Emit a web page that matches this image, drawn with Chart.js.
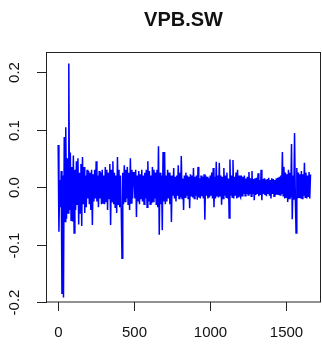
<!DOCTYPE html>
<html>
<head>
<meta charset="utf-8">
<script src="https://cdn.jsdelivr.net/npm/chart.js@4/dist/chart.umd.min.js"></script>
<style>
  body { margin: 0; background: #fff; overflow: hidden; }
  canvas { display: block; }
</style>
</head>
<body>
<canvas id="vpbChart" width="322" height="345"></canvas>
<script>
// daily returns of VPB.SW (one value kept for every 5th day)
var returns = [
  0.073, -0.078, 0.012, -0.035, 0.028, -0.186, 0.02, -0.192, 0.087, -0.06,
  0.104, -0.055, 0.05, -0.045, 0.215, -0.04, 0.06, -0.058, 0.035, -0.06,
  0.055, -0.08, 0.03, -0.04, 0.045, -0.03, 0.05, -0.065, 0.025, -0.045,
  0.04, -0.068, 0.052, -0.03, 0.035, -0.045, 0.02, -0.035, 0.03, -0.02,
  0.028, -0.03, 0.025, -0.04, 0.03, -0.066, 0.022, -0.025, 0.03, -0.02,
  0.045, -0.025, 0.02, -0.035, 0.028, -0.02, 0.025, -0.03, 0.03, -0.028,
  0.02, -0.03, 0.035, -0.025, 0.03, -0.04, 0.025, -0.02, 0.04, -0.066,
  0.03, -0.025, 0.045, -0.03, 0.025, -0.035, 0.02, -0.045, 0.052, -0.03,
  0.03, -0.035, 0.02, -0.04, -0.124, 0.025, -0.03, 0.038, -0.025, 0.03,
  -0.02, 0.035, -0.03, 0.025, -0.04, 0.05, -0.028, 0.03, -0.02, 0.025,
  0.025, -0.02, 0.03, -0.052, 0.02, -0.025, 0.028, -0.03, 0.022, -0.02,
  0.03, -0.025, 0.02, -0.03, 0.025, -0.02, 0.03, -0.035, 0.045, -0.025,
  0.028, -0.03, 0.02, -0.028, 0.035, -0.025, 0.03, -0.02, 0.025, -0.03,
  0.03, -0.035, 0.071, -0.083, 0.025, -0.03, 0.02, -0.075, 0.061, -0.025,
  0.061, -0.03, 0.02, -0.025, 0.03, -0.02, 0.025, -0.03, 0.02, -0.061,
  0.02, -0.015, 0.033, -0.02, 0.018, -0.025, 0.02, -0.015, 0.038, -0.02,
  0.025, -0.018, 0.054, -0.02, 0.015, -0.04, 0.02, -0.018, 0.025, -0.015,
  0.02, -0.02, 0.018, -0.037, 0.022, -0.015, 0.02, -0.018, 0.033, -0.02,
  0.018, -0.015, 0.02, -0.022, 0.035, -0.018, 0.015, -0.02, 0.02, -0.016,
  0.018, -0.02, 0.022, -0.057, 0.02, -0.015, 0.018, -0.02, 0.015, -0.018,
  0.02, -0.015, 0.025, -0.02, 0.033, -0.035, 0.018, -0.02, 0.044, -0.015,
  0.02, -0.018, 0.042, -0.015, 0.02, -0.031, 0.018, -0.02, 0.033, -0.015,
  0.02, -0.018, 0.025, -0.02, 0.015, -0.054, 0.048, -0.015, 0.02, -0.018,
  0.047, -0.02, 0.018, -0.015, 0.025, -0.02, 0.03, -0.018, 0.02, -0.015,
  -0.018, 0.02, -0.015, 0.018, -0.012, 0.02, -0.015, 0.015, -0.012, 0.018,
  -0.014, 0.026, -0.012, 0.015, -0.016, 0.028, -0.012, 0.014, -0.023, 0.015,
  -0.014, 0.016, -0.012, 0.024, -0.016, 0.012, -0.014, 0.03, -0.023, 0.014,
  -0.012, 0.015, -0.014, 0.012, -0.016, 0.014, -0.012, 0.016, -0.015, 0.012,
  -0.02, 0.015, -0.012, 0.014, -0.016, 0.012, -0.014, 0.015, -0.012, 0.016,
  -0.014, 0.018, -0.014, 0.02, -0.012, 0.061, -0.015, 0.035, -0.02, 0.025,
  -0.018, 0.022, -0.026, 0.03, -0.02, 0.025, -0.018, 0.075, -0.056, 0.02,
  -0.022, 0.094, -0.015, -0.08, 0.033, -0.02, 0.025, -0.018, 0.022, -0.02,
  0.028, -0.02, 0.022, -0.015, 0.042, -0.018, 0.025, -0.02, 0.02, -0.016,
  0.026, -0.02, 0.022
];
var dayStep = 5;
var days = returns.map(function (v, i) { return 1 + i * dayStep; });

var xTicks = [0, 500, 1000, 1500];
var xTickLabels = ["0", "500", "1000", "1500"];
var yTicks = [-0.2, -0.1, 0, 0.1, 0.2];
var yTickLabels = ["-0.2", "-0.1", "0.0", "0.1", "0.2"];
var title = "VPB.SW";

var points = days.map(function (d, i) { return { x: d, y: returns[i] }; });

// R style frame, ticks and labels drawn from the chart's own scales
var baseAxes = {
  id: "baseAxes",
  afterDraw: function (chart) {
    var ctx = chart.ctx;
    var xs = chart.scales.x;
    var ys = chart.scales.y;
    var a = chart.chartArea;
    ctx.save();
    ctx.strokeStyle = "#222";
    ctx.lineWidth = 1;
    ctx.strokeRect(a.left + 0.5, a.top - 0.5, a.right - a.left - 1, a.bottom - a.top + 0.5);

    ctx.fillStyle = "#111";
    ctx.font = '15px "Liberation Sans", Arial, sans-serif';
    ctx.textAlign = "center";
    ctx.textBaseline = "alphabetic";
    ctx.beginPath();
    yTicks.forEach(function (v, i) {
      var py = Math.round(ys.getPixelForValue(v)) + 0.5;
      ctx.moveTo(a.left - 9, py);
      ctx.lineTo(a.left + 1, py);
      ctx.save();
      ctx.translate(19, py);
      ctx.rotate(-Math.PI / 2);
      ctx.fillText(yTickLabels[i], 0, 0);
      ctx.restore();
    });
    xTicks.forEach(function (v, i) {
      var px = Math.round(xs.getPixelForValue(v)) + 0.5;
      ctx.moveTo(px, a.bottom);
      ctx.lineTo(px, a.bottom + 9);
      ctx.fillText(xTickLabels[i], px, 337);
    });
    ctx.stroke();

    ctx.font = 'bold 20px "Liberation Sans", Arial, sans-serif';
    ctx.fillText(title, (a.left + a.right) / 2, 26);
    ctx.restore();
  }
};

var ctx = document.getElementById("vpbChart").getContext("2d");
var vpbChart = new Chart(ctx, {
  type: "line",
  data: {
    datasets: [
      {
        label: title,
        data: points,
        borderColor: "#0000ff",
        borderWidth: 1.5,
        pointRadius: 0,
        tension: 0,
        fill: false,
      },
    ],
  },
  options: {
    responsive: false,
    animation: false,
    devicePixelRatio: 1,
    layout: { padding: { left: 46, top: 53, right: 1, bottom: 43 } },
    plugins: {
      legend: { display: false },
      tooltip: { enabled: false },
      title: { display: false },
    },
    scales: {
      x: { type: "linear", display: false, min: -79, max: 1730 },
      y: { type: "linear", display: false, min: -0.2, max: 0.2331 },
    },
  },
  plugins: [baseAxes],
});
</script>
</body>
</html>
